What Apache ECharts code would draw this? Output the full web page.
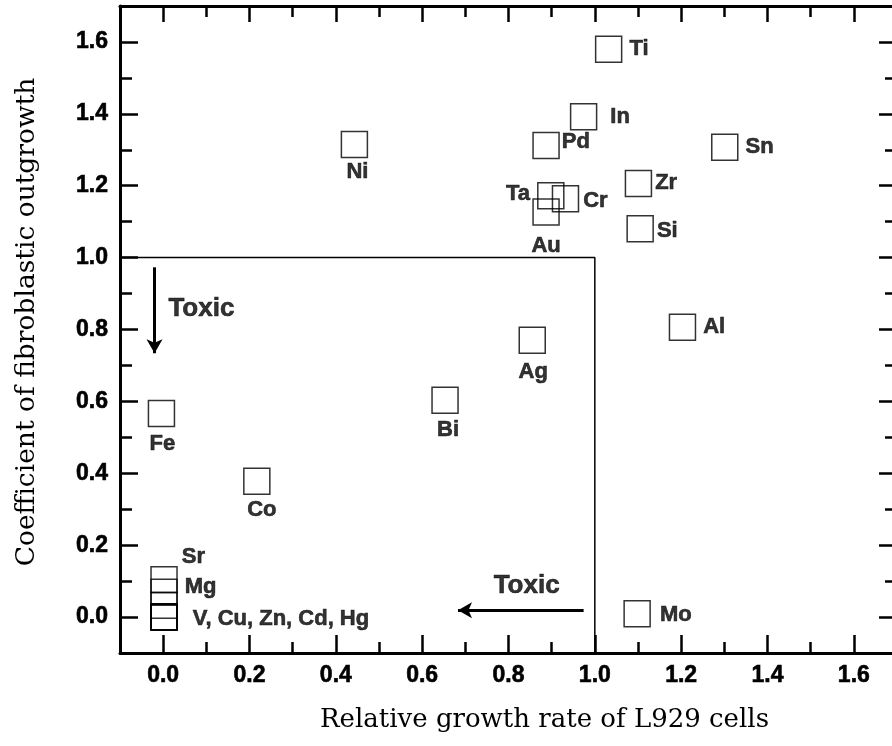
<!DOCTYPE html>
<html>
<head>
<meta charset="utf-8">
<script src="https://cdn.jsdelivr.net/npm/echarts@6/dist/echarts.min.js"></script>
<style>
  html, body { margin: 0; padding: 0; background: #fff; overflow: hidden; }
  #chart { width: 904px; height: 746px; }
</style>
</head>
<body>
<div id="chart"></div>
<script>
// Metal elements: relative growth rate of L929 cells (x) vs coefficient of fibroblastic outgrowth (y)
const metals = ['Ti', 'In', 'Pd', 'Sn', 'Ni', 'Ta', 'Cr', 'Zr', 'Au', 'Si', 'Al', 'Ag', 'Bi', 'Fe', 'Co', 'Sr', 'Mg', 'Cu', 'V', 'Zn', 'Cd', 'Hg', 'Mo'];
const growthRate = [1.032, 0.974, 0.887, 1.301, 0.443, 0.898, 0.932, 1.101, 0.887, 1.105, 1.203, 0.855, 0.653, -0.004, 0.217, 0.002, 0.002, 0.002, 0.002, 0.002, 0.002, 0.002, 1.098];
const outgrowth  = [1.580, 1.392, 1.312, 1.307, 1.315, 1.172, 1.164, 1.206, 1.127, 1.080, 0.806, 0.770, 0.603, 0.566, 0.378, 0.104, 0.069, 0.033, 0.000, 0.000, 0.000, 0.000, 0.009];

// Tick values
const xMajorTicks = [0.0, 0.2, 0.4, 0.6, 0.8, 1.0, 1.2, 1.4, 1.6];
const xMinorTicks = [0.1, 0.3, 0.5, 0.7, 0.9, 1.1, 1.3, 1.5];
const yMajorTicks = [0.0, 0.2, 0.4, 0.6, 0.8, 1.0, 1.2, 1.4, 1.6];
const yMinorTicks = [0.1, 0.3, 0.5, 0.7, 0.9, 1.1, 1.3, 1.5];

// Toxicity boundary (growth rate 1.0 / outgrowth 1.0)
const boundary = [[-0.1, 1.0], [1.0, 1.0], [1.0, -0.1]];
// "Toxic" arrows: [start, end]
const arrowDown = [[-0.02, 0.973], [-0.02, 0.734]];
const arrowLeft = [[0.974, 0.019], [0.683, 0.019]];
const toxicDownText = [0.011, 0.858];
const toxicLeftText = [0.842, 0.086];

// Label placement for each element
const labelPlacement = {
  Ti: { position: 'right', distance: 7, offset: [0, 0] },
  In: { position: 'right', distance: 13, offset: [0, 0] },
  Pd: { position: 'right', distance: 2, offset: [0, -4] },
  Sn: { position: 'right', distance: 7, offset: [0, 0] },
  Zr: { position: 'right', distance: 3, offset: [0, -1] },
  Si: { position: 'right', distance: 3, offset: [0, 2] },
  Ta: { position: 'left', distance: 7, offset: [0, -2] },
  Cr: { position: 'right', distance: 4, offset: [0, 2] },
  Au: { position: 'inside', offset: [0, 34] },
  Ni: { position: 'inside', offset: [3, 28] },
  Ag: { position: 'inside', offset: [1, 32] },
  Fe: { position: 'inside', offset: [1, 30] },
  Co: { position: 'inside', offset: [5, 29] },
  Bi: { position: 'inside', offset: [3, 30] },
  Al: { position: 'right', distance: 7, offset: [0, 0] },
  Mo: { position: 'right', distance: 9, offset: [0, 1] },
  Sr: { position: 'right', distance: 4, offset: [0, -23] },
  Mg: { position: 'right', distance: 7, offset: [0, -5] },
  V:  { position: 'right', distance: 15, offset: [0, 2], text: 'V, Cu, Zn, Cd, Hg' }
};

const labelFont = {
  fontFamily: 'Liberation Sans', fontWeight: 'bold', fontSize: 22, color: '#000',
  textBorderColor: '#000', textBorderWidth: 0.6
};

const points = metals.map((name, i) => {
  const p = labelPlacement[name];
  const item = { name: name, value: [growthRate[i], outgrowth[i]] };
  if (p) {
    item.label = Object.assign({
      show: true,
      position: p.position,
      distance: p.distance || 0,
      offset: p.offset,
      formatter: p.text || name
    }, labelFont);
  } else {
    item.label = { show: false };
  }
  return item;
});

const axisColor = '#000';
const tickLabelFont = {
  fontFamily: 'Liberation Sans', fontWeight: 'bold', fontSize: 23, color: '#000',
  textBorderColor: '#000', textBorderWidth: 0.6
};
function axisDef(position, values, len, withLine, withLabel, margin) {
  return {
    type: 'value', position: position, min: -0.1, max: 1.7,
    axisLine: { show: withLine, onZero: false, lineStyle: { color: axisColor, width: 3 } },
    axisTick: { show: true, inside: true, length: len, customValues: values, lineStyle: { color: axisColor, width: 2.5 } },
    axisLabel: withLabel ? Object.assign({
      show: true, customValues: values, margin: margin,
      formatter: v => v.toFixed(1)
    }, tickLabelFont) : { show: false },
    splitLine: { show: false }
  };
}

const chart = echarts.init(document.getElementById('chart'), null, { renderer: 'canvas' });
chart.setOption({
  animation: false,
  backgroundColor: '#fff',
  grid: { left: 120, top: 6, width: 777, height: 647, containLabel: false },
  xAxis: [
    axisDef('bottom', xMajorTicks, 18, true, true, 11),
    axisDef('bottom', xMinorTicks, 11, false, false),
    axisDef('top', xMajorTicks, 16, true, false),
    axisDef('top', xMinorTicks, 11, false, false)
  ],
  yAxis: [
    axisDef('left', yMajorTicks, 18, true, true, 12),
    axisDef('left', yMinorTicks, 12, false, false),
    axisDef('right', yMajorTicks, 18, true, false),
    axisDef('right', yMinorTicks, 12, false, false)
  ],
  graphic: [
    {
      type: 'text', left: 320, top: 707,
      style: { text: 'Relative growth rate of L929 cells', font: '26px "DejaVu Serif"', fill: '#000' }
    },
    {
      type: 'text', x: 27, y: 322, rotation: Math.PI / 2,
      style: { text: 'Coefficient of fibroblastic outgrowth', font: '26.5px "DejaVu Serif"', fill: '#000',
               align: 'center', verticalAlign: 'middle' }
    }
  ],
  series: [
    {
      type: 'line',
      name: 'boundary',
      data: boundary,
      symbol: 'none',
      lineStyle: { color: '#000', width: 1.5 },
      z: 2,
      markLine: {
        silent: true,
        symbol: ['none', 'arrow'],
        symbolSize: [12, 14],
        lineStyle: { color: '#000', width: 3, type: 'solid' },
        label: { show: false },
        data: [
          [{ coord: arrowDown[0] }, { coord: arrowDown[1] }],
          [{ coord: arrowLeft[0] }, { coord: arrowLeft[1] }]
        ]
      }
    },
    {
      type: 'scatter',
      name: 'metals',
      data: points,
      symbol: 'rect',
      symbolSize: 26,
      itemStyle: { color: 'rgba(0,0,0,0)', borderColor: '#000', borderWidth: 1.5 },
      z: 3
    },
    {
      type: 'scatter',
      name: 'notes',
      symbolSize: 1,
      itemStyle: { color: 'rgba(0,0,0,0)' },
      data: [
        { value: toxicDownText, label: Object.assign({ show: true, position: 'right', distance: 0, formatter: 'Toxic' },
          labelFont, { fontSize: 26 }) },
        { value: toxicLeftText, label: Object.assign({ show: true, position: 'inside', formatter: 'Toxic' },
          labelFont, { fontSize: 26 }) }
      ],
      z: 3
    }
  ]
});
</script>
</body>
</html>
